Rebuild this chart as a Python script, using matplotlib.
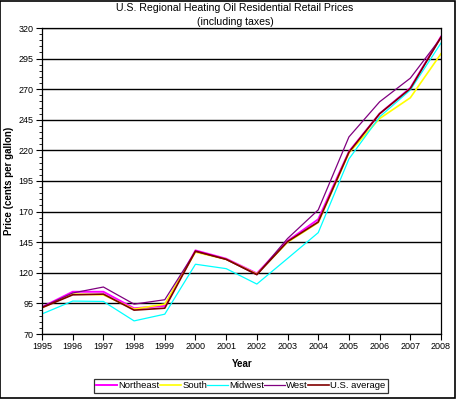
import numpy as np
import matplotlib
matplotlib.use("Agg")
import matplotlib.pyplot as plt
from matplotlib.patches import Rectangle

plt.rcParams['font.family'] = ['Liberation Sans', 'DejaVu Sans']

# data (cents per gallon)
years = list(range(1995, 2009))
northeast = [92, 104.5, 104.5, 91, 93, 138.3, 131.5, 119.5, 146, 163.7, 219, 250, 271, 313]
south = [91.5, 102.6, 102, 90.3, 94.4, 136.9, 131, 119, 145, 161, 218, 246, 263, 299]
midwest = [86.4, 96.9, 96.6, 80.7, 86.2, 127, 123.4, 110.8, 131.7, 152.8, 213, 247.4, 269.3, 307.7]
west = [92, 103.5, 108.4, 94.4, 98, 137.5, 131, 118.5, 148, 171.4, 231, 259.7, 279, 312]
us_avg = [91.5, 102, 102.6, 89.5, 91.1, 137.7, 131, 118.5, 145.5, 161.5, 218.5, 250, 270.5, 312.5]

y_ticks = list(range(70, 321, 25))

series = [
    ('Northeast', northeast, '#ff00ff', 1.4),
    ('South', south, '#ffff00', 1.2),
    ('Midwest', midwest, '#00ffff', 0.9),
    ('West', west, '#800080', 0.9),
    ('U.S. average', us_avg, '#800000', 1.2),
]

fig = plt.figure(figsize=(4.57, 3.99), dpi=100)
ax = fig.add_axes([42 / 457, 1 - 334 / 399, (441 - 42) / 457, (334 - 28) / 399])

for name, vals, col, lw in series:
    ax.plot(years, vals, color=col, lw=lw, label=name)

ax.set_xlim(1995, 2008)
ax.set_ylim(70, 320)
ax.set_xticks(years)
ax.set_yticks(y_ticks)
ax.set_yticks(np.arange(70, 321, 5), minor=True)
ax.grid(axis='y', which='major', color='black', lw=1)
ax.tick_params(axis='both', which='major', labelsize=6.5, length=4, width=0.8,
               direction='out', pad=2)
ax.tick_params(axis='y', which='minor', length=2, width=0.6, direction='out')
for s in ax.spines.values():
    s.set_linewidth(0.9)

fig.text(242 / 457, 1 - 364 / 399, 'Year', ha='center', va='center',
         fontsize=7, fontweight='bold')
fig.text(9 / 457, 1 - 181 / 399, 'Price (cents per gallon)', ha='center', va='center',
         rotation=90, fontsize=7, fontweight='bold')

fig.text(235 / 457, 1 - 8 / 399, 'U.S. Regional Heating Oil Residential Retail Prices',
         ha='center', va='center', fontsize=7.6)
fig.text(235 / 457, 1 - 22 / 399, '(including taxes)', ha='center', va='center', fontsize=7.6)

leg = fig.legend(loc='center', bbox_to_anchor=(241 / 457, 1 - 386 / 399), ncol=5,
                 fontsize=6.8, frameon=True, fancybox=False, handlelength=2.2,
                 handletextpad=0.15, columnspacing=0.0, borderpad=0.25,
                 borderaxespad=0)
leg.get_frame().set_edgecolor('black')
leg.get_frame().set_linewidth(0.9)

fig.patches.append(Rectangle((0.001, 0.003), 0.995, 0.995, transform=fig.transFigure,
                             fill=False, edgecolor='black', lw=1.2))

fig.savefig('out.png', dpi=100)
